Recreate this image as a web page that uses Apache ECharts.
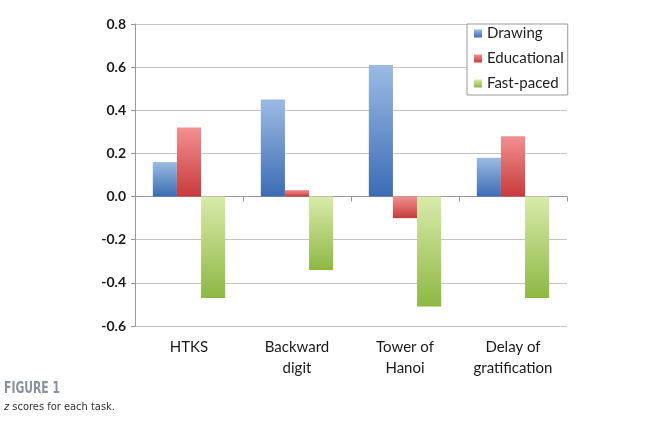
<!DOCTYPE html>
<html>
<head>
<meta charset="utf-8">
<script src="https://cdn.jsdelivr.net/npm/echarts@6/dist/echarts.min.js"></script>
<style>
  html, body { margin: 0; padding: 0; background: #fff; }
  #main { width: 660px; height: 427px; }
</style>
</head>
<body>
<div id="main"></div>
<script>
// tasks on the x axis
var tasks = ['HTKS', 'Backward\ndigit', 'Tower of\nHanoi', 'Delay of\ngratification'];
// z scores
var drawing = [0.16, 0.45, 0.61, 0.18];
var educational = [0.32, 0.03, -0.10, 0.28];
var fastPaced = [-0.47, -0.34, -0.51, -0.47];
var seriesNames = ['Drawing', 'Educational', 'Fast-paced'];

var font = 'Lato, "Open Sans", sans-serif';
var capFont = '"DejaVu Sans Condensed", "DejaVu Sans", sans-serif';

function grad(top, bottom) {
    return new echarts.graphic.LinearGradient(0, 0, 0, 1, [
        { offset: 0, color: top },
        { offset: 1, color: bottom }
    ]);
}

var myChart = echarts.init(document.getElementById('main'));

var option = {
    backgroundColor: '#fff',
    animation: false,
    grid: { left: 135, right: 93, top: 24, bottom: 101 },
    legend: {
        data: seriesNames,
        orient: 'vertical',
        left: 467,
        top: 24,
        itemWidth: 8,
        itemHeight: 8,
        itemGap: 10,
        padding: [2, 4, 4, 7],
        icon: 'rect',
        borderColor: '#999',
        borderWidth: 1,
        backgroundColor: '#fff',
        textStyle: { fontFamily: font, fontSize: 15, color: '#222' }
    },
    xAxis: [{
        // labels at the bottom
        type: 'category',
        data: tasks,
        position: 'bottom',
        axisLine: { show: false, onZero: false },
        axisTick: { show: false },
        axisLabel: {
            margin: 11,
            fontFamily: font,
            fontSize: 15,
            lineHeight: 21,
            color: '#1a1a1a'
        }
    }, {
        // the zero line with its ticks
        type: 'category',
        data: tasks,
        position: 'top',
        axisLine: { show: true, onZero: true, lineStyle: { color: '#999', width: 1 } },
        axisTick: { show: true, inside: true, length: 5, lineStyle: { color: '#999' } },
        axisLabel: { show: false }
    }],
    yAxis: {
        type: 'value',
        min: -0.6,
        max: 0.8,
        interval: 0.2,
        axisLine: { show: true, lineStyle: { color: '#999' } },
        axisTick: { show: true, length: 4, lineStyle: { color: '#999' } },
        splitLine: { lineStyle: { color: '#c4c4c4', width: 1 } },
        axisLabel: {
            margin: 9,
            fontFamily: font,
            fontSize: 14,
            fontWeight: 'bold',
            color: '#1a1a1a',
            formatter: function (v) { return v.toFixed(1); }
        }
    },
    series: [{
        name: 'Drawing',
        type: 'bar',
        data: drawing,
        barGap: '0%',
        barCategoryGap: '33%',
        itemStyle: { color: grad('#9bbbe3', '#3b6cb4') }
    }, {
        name: 'Educational',
        type: 'bar',
        data: educational,
        itemStyle: { color: grad('#f29090', '#c93a3a') }
    }, {
        name: 'Fast-paced',
        type: 'bar',
        data: fastPaced,
        itemStyle: { color: grad('#d9ebaa', '#8db843') }
    }],
    graphic: [{
        type: 'text',
        x: 4,
        y: 382,
        scaleX: 0.8,
        style: {
            text: 'FIGURE 1',
            fontFamily: capFont,
            fontWeight: 'bold',
            fontSize: 15,
            fill: '#8c929c'
        }
    }, {
        type: 'text',
        x: 4,
        y: 402,
        style: {
            text: '{i|z} scores for each task.',
            fontFamily: capFont,
            fontSize: 11,
            fill: '#333',
            rich: {
                i: { fontStyle: 'italic', fontSize: 11, fontFamily: capFont, fill: '#333' }
            }
        }
    }]
};

myChart.setOption(option);
</script>
</body>
</html>
